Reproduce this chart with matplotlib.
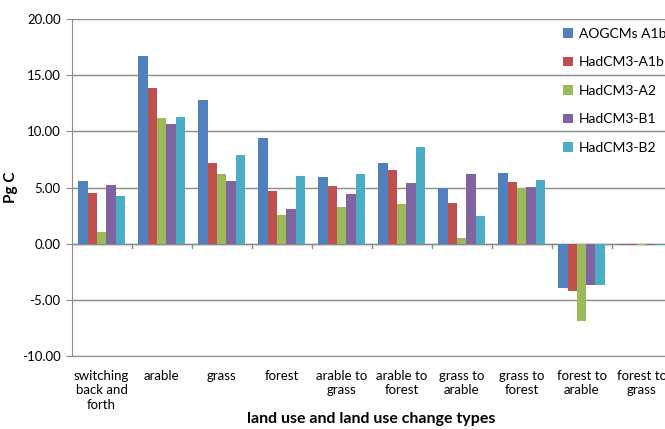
import numpy as np
import matplotlib
matplotlib.use("Agg")
import matplotlib.pyplot as plt

plt.rcParams['font.family'] = ['Lato', 'DejaVu Sans']

categories = ["switching\nback and\nforth", "arable", "grass", "forest",
              "arable to\ngrass", "arable to\nforest", "grass to\narable",
              "grass to\nforest", "forest to\narable", "forest to\ngrass"]

aogcm_a1b = [5.61, 16.74, 12.76, 9.38, 5.93, 7.15, 4.95, 6.33, -3.98, -0.08]
hadcm3_a1b = [4.51, 13.86, 7.18, 4.72, 5.13, 6.56, 3.61, 5.50, -4.21, -0.12]
hadcm3_a2 = [1.04, 11.22, 6.23, 2.55, 3.23, 3.53, 0.50, 4.99, -6.86, -0.10]
hadcm3_b1 = [5.22, 10.63, 5.58, 3.12, 4.45, 5.42, 6.20, 5.08, -3.71, -0.15]
hadcm3_b2 = [4.27, 11.31, 7.90, 6.06, 6.17, 8.60, 2.45, 5.68, -3.71, -0.10]

series = [("AOGCMs A1b", aogcm_a1b, "#4F81BD"),
          ("HadCM3-A1b", hadcm3_a1b, "#C0504D"),
          ("HadCM3-A2", hadcm3_a2, "#9BBB59"),
          ("HadCM3-B1", hadcm3_b1, "#8064A2"),
          ("HadCM3-B2", hadcm3_b2, "#4BACC6")]

fig = plt.figure(figsize=(6.65, 4.29), dpi=100)
ax = fig.add_axes([0.1078, 0.1702, 0.902, 0.785])

x = np.arange(len(categories))
w = 0.155
for i, (name, vals, col) in enumerate(series):
    ax.bar(x + (i - 2) * w, vals, w, color=col, label=name, zorder=3)

ax.set_xlim(-0.5, len(categories) - 0.5)
ax.set_ylim(-10, 20)
ax.set_yticks(np.arange(-10, 21, 5))
ax.set_yticklabels(["%.2f" % v for v in np.arange(-10, 21, 5)], fontsize=9.5)
ax.yaxis.grid(True, color="#8C8C8C", lw=1, zorder=0)
ax.tick_params(axis='y', length=4, color="#8C8C8C", pad=4)

ax.set_xticks(x)
ax.set_xticklabels(categories, fontsize=9.5, linespacing=1.25)
ax.tick_params(axis='x', length=0, pad=10)

# category axis crosses at zero with boundary tick marks
ax.axhline(0, color="#8C8C8C", lw=1, zorder=2)
for b in np.arange(0.5, len(categories), 1):
    ax.plot([b, b], [0, -0.4], color="#8C8C8C", lw=1, zorder=2, clip_on=False)

for s in ["top", "right"]:
    ax.spines[s].set_visible(False)
ax.spines["left"].set_color("#8C8C8C")
ax.spines["bottom"].set_color("#8C8C8C")

ax.set_ylabel("Pg C", fontsize=11, fontweight="bold", labelpad=3)
ax.set_xlabel("land use and land use change types", fontsize=11.5, fontweight="bold", labelpad=1)

fig.legend(loc="upper left", bbox_to_anchor=(0.838, 0.948), frameon=False,
           fontsize=10, handlelength=0.7, handleheight=0.7, handletextpad=0.45,
           labelspacing=1.19, borderaxespad=0)

fig.savefig("out.png", dpi=100)
